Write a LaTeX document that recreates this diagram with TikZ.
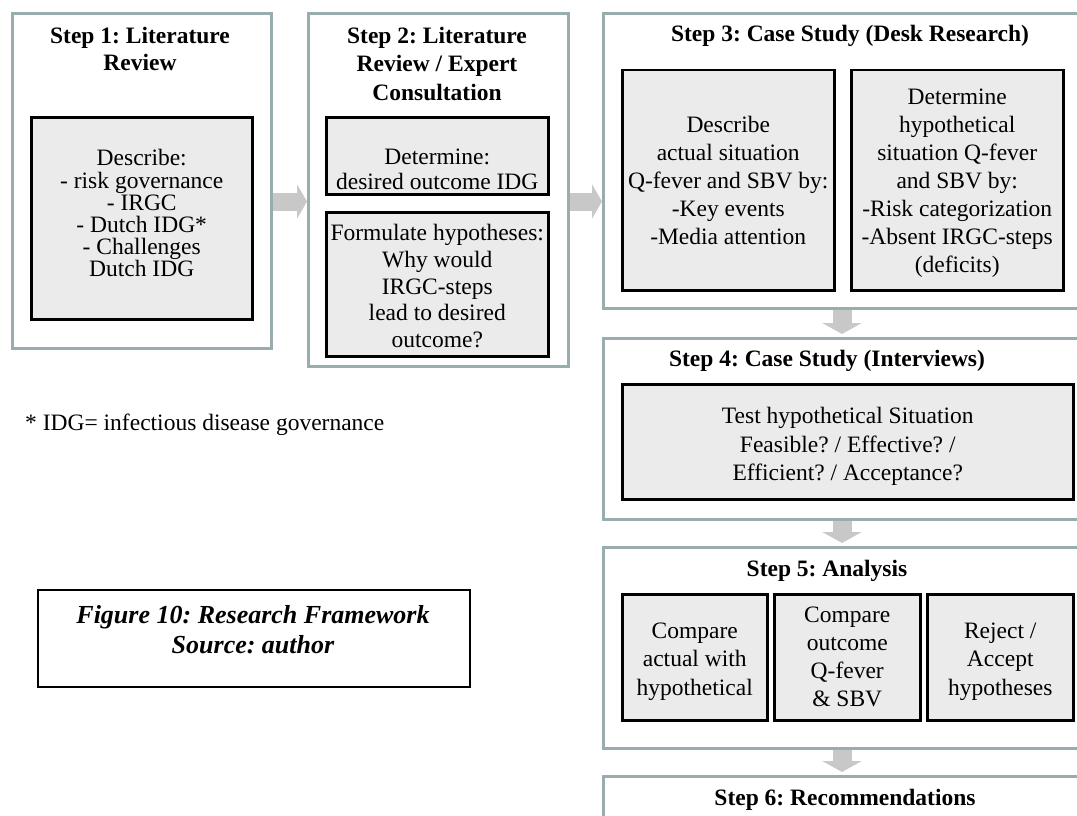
\documentclass[tikz,border=0pt]{standalone}
\usepackage{fontspec}
\setmainfont{Liberation Serif}
\usetikzlibrary{arrows.meta}
\frenchspacing

\definecolor{frame}{RGB}{152,174,174}
\definecolor{boxfill}{RGB}{235,235,235}
\definecolor{flowgray}{RGB}{200,200,200}

\begin{document}
\begin{tikzpicture}[x=1pt,y=-1pt,
  body/.style={font=\fontsize{23.5}{28}\selectfont, align=center, inner sep=0pt},
  ttl/.style={font=\fontsize{23.5}{28}\selectfont\bfseries, align=center, inner sep=0pt},
  panel/.style={draw=frame, line width=3pt, fill=white, anchor=north west, inner sep=0pt},
  inbox/.style={draw=black, line width=2.5pt, fill=boxfill, anchor=north west,
                inner sep=0pt, align=center, font=\fontsize{23.5}{28}\selectfont},
  hflow/.style={draw=flowgray, line width=18pt,
                -{Triangle[width=34pt,length=10pt]}},
  vflow/.style={draw=flowgray, line width=19pt, shorten >=3pt,
                -{Triangle[width=39pt,length=11pt]}}
]
\useasboundingbox (0,0) rectangle (1077,816);

% ---- step panels ----
\node[panel, minimum width=259, minimum height=335] (s1) at (11,12) {};
\node[panel, minimum width=260, minimum height=353] (s2) at (307,12) {};
\node[panel, minimum width=493, minimum height=295] (s3) at (602,12) {};
\node[panel, minimum width=493, minimum height=181] (s4) at (602,337) {};
\node[panel, minimum width=493, minimum height=201] (s5) at (602,546) {};
\node[panel, minimum width=493, minimum height=70]  (s6) at (602,775) {};

% ---- panel titles ----
\node[ttl, font=\fontsize{23.5}{27}\selectfont\bfseries] (t1) at (140,48.5)
  {Step 1: Literature\\Review};
\node[ttl, font=\fontsize{23.5}{28.5}\selectfont\bfseries] (t2) at (437,63.5)
  {Step 2: Literature\\Review / Expert\\Consultation};
\node[ttl] (t3) at (850,36) {Step 3: Case Study (Desk Research)};
\node[ttl] (t4) at (827,361) {Step 4: Case Study (Interviews)};
\node[ttl] (t5) at (827,571) {Step 5: Analysis};
\node[ttl] (t6) at (845,800) {Step 6: Recommendations};

% ---- inner boxes (struts set the vertical position of the text) ----
\node[inbox, minimum width=221, minimum height=202,
      font=\fontsize{23.5}{22.2}\selectfont] (b1) at (30,116)
  {Describe:\\- risk governance\\- IRGC\\- Dutch IDG*\\- Challenges\\Dutch IDG\rule[-10pt]{0pt}{10pt}};

\node[inbox, minimum width=222, minimum height=77,
      font=\fontsize{23.5}{25}\selectfont] (b2a) at (325,116)
  {\rule{0pt}{42pt}Determine:\\desired outcome IDG};
\node[inbox, minimum width=222, minimum height=144,
      font=\fontsize{23.5}{26.8}\selectfont] (b2b) at (325,211)
  {\rule{0pt}{20pt}Formulate hypotheses:\\Why would\\IRGC-steps\\lead to desired\\outcome?};

\node[inbox, minimum width=212, minimum height=220] (b3a) at (621,69)
  {Describe\\actual situation\\Q-fever and SBV by:\\-Key events\\-Media attention};
\node[inbox, minimum width=212, minimum height=220] (b3b) at (850,69)
  {\rule{0pt}{22pt}Determine\\hypothetical\\situation Q-fever\\and SBV by:\\-Risk categorization\\-Absent IRGC-steps\\(deficits)};

\node[inbox, minimum width=451, minimum height=115,
      font=\fontsize{23.5}{28.5}\selectfont] (b4) at (621,383)
  {\rule{0pt}{26pt}Test hypothetical Situation\\Feasible? / Effective? /\\Efficient? / Acceptance?};

\node[inbox, minimum width=145, minimum height=126,
      font=\fontsize{23.5}{28.5}\selectfont] (b5a) at (621,593)
  {\rule{0pt}{24pt}Compare\\actual with\\hypothetical};
\node[inbox, minimum width=146, minimum height=126,
      font=\fontsize{23.5}{28}\selectfont] (b5b) at (773,593)
  {Compare\\outcome\\Q-fever\\\& SBV};
\node[inbox, minimum width=146, minimum height=126,
      font=\fontsize{23.5}{28.5}\selectfont] (b5c) at (926,593)
  {\rule{0pt}{24pt}Reject /\\Accept\\hypotheses};

% ---- flow arrows between steps ----
\coordinate (row) at (0,201.5);
\coordinate (col) at (842,0);
\draw[hflow] (s1.east |- row) -- (s2.west |- row);
\draw[hflow] (s2.east |- row) -- (s3.west |- row);
\draw[vflow] (s3.south -| col) -- (s4.north -| col);
\draw[vflow] (s4.south -| col) -- (s5.north -| col);
\draw[vflow] (s5.south -| col) -- (s6.north -| col);

% ---- footnote and caption ----
\node[body, anchor=west] (note) at (25,425)
  {* IDG= infectious disease governance};
\node[draw=black, line width=1.5pt, fill=white, anchor=north west,
      minimum width=432, minimum height=97] (cap) at (37,589) {};
\node[font=\fontsize{26}{30}\selectfont\bfseries\itshape, align=center,
      inner sep=0pt] (captxt) at (253,630)
  {Figure 10: Research Framework\\Source: author};
\end{tikzpicture}
\end{document}
